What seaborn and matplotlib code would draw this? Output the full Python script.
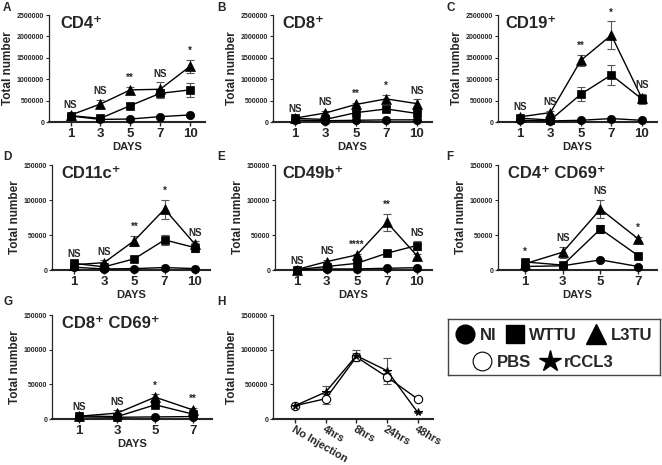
import numpy as np
import pandas as pd
import matplotlib.pyplot as plt
from matplotlib.lines import Line2D
import seaborn as sns

# categories
days5 = ['1', '3', '5', '7', '10']
days4 = ['1', '3', '5', '7']
h_times = ['No Injection', '4hrs', '8hrs', '24hrs', '48hrs']

# A  CD4+
cd4_mean = {'NI': [140000, 60000, 70000, 125000, 165000],
            'WTTU': [148000, 86000, 382000, 670000, 750000],
            'L3TU': [160000, 420000, 750000, 765000, 1300000]}
cd4_err = {'NI': [15000, 10000, 10000, 15000, 20000],
           'WTTU': [30000, 20000, 60000, 100000, 170000],
           'L3TU': [30000, 90000, 70000, 160000, 160000]}
cd4_sig = ['NS', 'NS', '**', 'NS', '*']

# B  CD8+
cd8_mean = {'NI': [45000, 30000, 40000, 50000, 50000],
            'WTTU': [85000, 60000, 218000, 305000, 200000],
            'L3TU': [90000, 210000, 410000, 540000, 430000]}
cd8_err = {'NI': [5000, 5000, 5000, 5000, 5000],
           'WTTU': [15000, 15000, 30000, 40000, 50000],
           'L3TU': [20000, 50000, 40000, 100000, 100000]}
cd8_sig = ['NS', 'NS', '**', '*', 'NS']

# C  CD19+
cd19_mean = {'NI': [40000, 25000, 40000, 80000, 40000],
             'WTTU': [90000, 45000, 650000, 1100000, 540000],
             'L3TU': [120000, 220000, 1440000, 2030000, 560000]}
cd19_err = {'NI': [5000, 5000, 5000, 10000, 5000],
            'WTTU': [20000, 10000, 160000, 230000, 110000],
            'L3TU': [20000, 40000, 130000, 320000, 80000]}
cd19_sig = ['NS', 'NS', '**', '*', 'NS']

# D  CD11c+
cd11c_mean = {'NI': [4000, 1500, 2000, 3500, 2000],
              'WTTU': [9500, 4500, 16000, 43000, 32000],
              'L3TU': [7500, 10500, 42000, 87000, 37000]}
cd11c_err = {'NI': [500, 300, 300, 500, 300],
             'WTTU': [1500, 1000, 1500, 7000, 6000],
             'L3TU': [2000, 3500, 7000, 13500, 4000]}
cd11c_sig = ['NS', 'NS', '**', '*', 'NS']

# E  CD49b+
cd49b_mean = {'NI': [500, 1500, 1500, 2500, 3300],
              'WTTU': [500, 5000, 9500, 24000, 35000],
              'L3TU': [600, 12000, 21500, 68000, 20500]}
cd49b_err = {'NI': [200, 300, 300, 400, 500],
             'WTTU': [200, 1000, 1500, 2000, 6000],
             'L3TU': [200, 3000, 1500, 12000, 3000]}
cd49b_sig = ['NS', 'NS', '****', '**', 'NS']

# F  CD4+ CD69+
cd4cd69_mean = {'NI': [5000, 6000, 14500, 5000],
                'WTTU': [11500, 7000, 58500, 20500],
                'L3TU': [9000, 25500, 87000, 44500]}
cd4cd69_err = {'NI': [1000, 1000, 2000, 1000],
               'WTTU': [2500, 1500, 5500, 2500],
               'L3TU': [2000, 8000, 13000, 3000]}
cd4cd69_sig = ['*', 'NS', 'NS', '*']

# G  CD8+ CD69+
cd8cd69_mean = {'NI': [3000, 2500, 3000, 3500],
                'WTTU': [4500, 3500, 20500, 7000],
                'L3TU': [4000, 8500, 31500, 13000]}
cd8cd69_err = {'NI': [500, 500, 500, 500],
               'WTTU': [1000, 1000, 2500, 2500],
               'L3TU': [1000, 4000, 4000, 3000]}
cd8cd69_sig = ['NS', 'NS', '*', '**']

# H  injection time course
h_pbs = [192000, 293000, 895000, 606000, 288000]
h_pbs_err = [15000, 70000, 50000, 60000, 15000]
h_ccl3 = [192000, 389000, 913000, 697000, 96000]
h_ccl3_err = [15000, 80000, 80000, 190000, 10000]

groups = ['NI', 'WTTU', 'L3TU']
marks = {'NI': 'o', 'WTTU': 's', 'L3TU': '^'}
msize = {'NI': 6, 'WTTU': 6, 'L3TU': 6.5}

sns.set_style('ticks')
plt.rcParams['font.family'] = ['Liberation Sans', 'DejaVu Sans']
plt.rcParams['font.weight'] = 'bold'

fig = plt.figure(figsize=(6.62, 4.65), dpi=100)


def make_ax(l, t, r, b):
    return fig.add_axes([l / 662, 1 - b / 465, (r - l) / 662, (b - t) / 465])


def style_ax(ax, labels, ymax, yticks, xlabel=True):
    n = len(labels)
    ax.set_xlim(-0.72, n - 1 + 0.5)
    ax.set_ylim(0, ymax)
    ax.set_xticks(range(n))
    ax.set_xticklabels(labels, fontsize=9.5, fontweight='bold')
    ax.set_yticks(yticks)
    ax.set_yticklabels([str(t) for t in yticks], fontsize=5, fontweight='bold')
    ax.tick_params(axis='y', length=2.5, width=0.8, pad=1)
    ax.tick_params(axis='x', length=3, width=1, pad=1.5)
    sns.despine(ax=ax)
    ax.spines['left'].set_linewidth(0.9)
    ax.spines['bottom'].set_linewidth(1.5)
    ax.set_ylabel('Total number', fontsize=8.5, fontweight='bold', labelpad=2)
    if xlabel:
        ax.set_xlabel('DAYS', fontsize=8, fontweight='bold', labelpad=1)
    else:
        ax.set_xlabel('')


def draw_panel(ax, labels, means, errs, sig, ymax, yticks, title, tx):
    x = np.arange(len(labels))
    for g in groups:
        df = pd.DataFrame({'x': x, 'y': means[g]})
        ax.errorbar(x, means[g], yerr=errs[g], fmt='none', ecolor='#555555',
                    elinewidth=0.8, capsize=3, capthick=0.8, zorder=2)
        sns.lineplot(data=df, x='x', y='y', ax=ax, color='black', lw=1,
                     marker=marks[g], ms=msize[g],
                     mec='black', mfc='black', mew=0.5, clip_on=False, zorder=3)
    for i, s in enumerate(sig):
        top = max(means[g][i] + errs[g][i] for g in groups)
        ax.text(i, top + 0.035 * ymax, s, ha='center', va='bottom',
                fontsize=7, fontweight='bold')
    style_ax(ax, labels, ymax, yticks)
    ax.text(tx, 0.99, title, transform=ax.transAxes, ha='left', va='top',
            fontsize=12, fontweight='bold')


big = [0, 500000, 1000000, 1500000, 2000000, 2500000]
small = [0, 50000, 100000, 150000]

draw_panel(make_ax(49, 15, 205, 122), days5, cd4_mean, cd4_err, cd4_sig,
           2500000, big, 'CD4⁺', 0.075)
draw_panel(make_ax(273, 15, 432, 122), days5, cd8_mean, cd8_err, cd8_sig,
           2500000, big, 'CD8⁺', 0.06)
draw_panel(make_ax(498, 15, 657, 122), days5, cd19_mean, cd19_err, cd19_sig,
           2500000, big, 'CD19⁺', 0.045)
draw_panel(make_ax(52, 165, 210, 270), days5, cd11c_mean, cd11c_err, cd11c_sig,
           150000, small, 'CD11c⁺', 0.06)
draw_panel(make_ax(275, 165, 432, 270), days5, cd49b_mean, cd49b_err, cd49b_sig,
           150000, small, 'CD49b⁺', 0.045)
draw_panel(make_ax(498, 165, 657, 270), days4, cd4cd69_mean, cd4cd69_err, cd4cd69_sig,
           150000, small, 'CD4⁺ CD69⁺', 0.06)
draw_panel(make_ax(52, 315, 212, 419), days4, cd8cd69_mean, cd8cd69_err, cd8cd69_sig,
           150000, small, 'CD8⁺ CD69⁺', 0.06)

# H
axh = make_ax(273, 315, 433, 419)
xh = np.arange(len(h_times))
for vals, errs, m, fc, ms in [(h_pbs, h_pbs_err, 'o', 'white', 6),
                              (h_ccl3, h_ccl3_err, '*', 'black', 5.5)]:
    axh.errorbar(xh, vals, yerr=errs, fmt='none', ecolor='#555555',
                 elinewidth=0.8, capsize=3, capthick=0.8, zorder=2)
    sns.lineplot(x=xh, y=vals, ax=axh, color='black', lw=1, marker=m, ms=ms,
                 mec='black', mfc=fc, mew=0.8, clip_on=False, zorder=3)
style_ax(axh, h_times, 1500000, [0, 500000, 1000000, 1500000], xlabel=False)
axh.set_xticklabels(h_times, fontsize=7.8, fontweight='bold', rotation=-30,
                    ha='left', va='top', rotation_mode='anchor')
axh.tick_params(axis='x', pad=1)

# panel letters
for lt, px, py in [('A', 3, 2), ('B', 217, 2), ('C', 446, 2),
                   ('D', 3, 151), ('E', 217, 151), ('F', 446, 151),
                   ('G', 3, 296), ('H', 217, 296)]:
    fig.text(px / 662, 1 - py / 465, lt, ha='left', va='top',
             fontsize=8.5, fontweight='bold')

# legend box
axl = make_ax(448, 319, 660, 375)
axl.set_xticks([])
axl.set_yticks([])
for sp in axl.spines.values():
    sp.set_color('#444444')
    sp.set_linewidth(1)

row1 = [Line2D([], [], ls='none', marker='o', ms=13.5, color='black'),
        Line2D([], [], ls='none', marker='s', ms=13.5, color='black'),
        Line2D([], [], ls='none', marker='^', ms=15, color='black')]
row2 = [Line2D([], [], ls='none', marker='o', ms=13.5, mfc='white', mec='black', mew=0.8),
        Line2D([], [], ls='none', marker='*', ms=16, color='black')]
leg1 = axl.legend(row1, ['NI', 'WTTU', 'L3TU'], ncol=3, loc='center',
                  bbox_to_anchor=(0.5, 0.71), frameon=False, handlelength=1.1,
                  handletextpad=0.3, columnspacing=0.6, borderpad=0,
                  prop={'size': 12, 'weight': 'bold'})
axl.add_artist(leg1)
axl.legend(row2, ['PBS', 'rCCL3'], ncol=2, loc='center',
           bbox_to_anchor=(0.45, 0.23), frameon=False, handlelength=1.1,
           handletextpad=0.3, columnspacing=0.6, borderpad=0,
           prop={'size': 12, 'weight': 'bold'})

plt.savefig('out.png', dpi=100)
